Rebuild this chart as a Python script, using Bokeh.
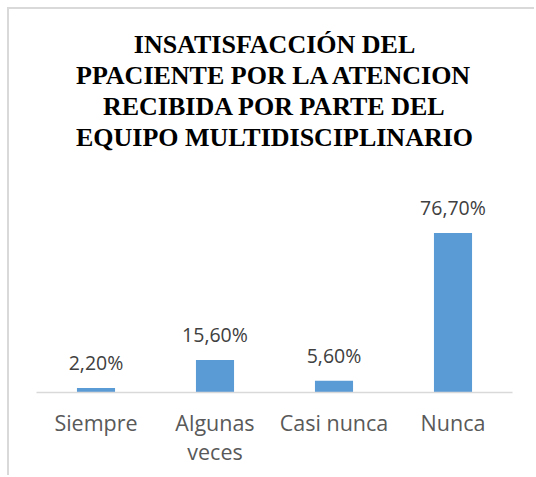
from bokeh.plotting import figure
from bokeh.models import ColumnDataSource, LabelSet, Title, LinearAxis, FixedTicker, Range1d
from bokeh.core.properties import value
from bokeh.embed import file_html
from bokeh.resources import INLINE

categories = ["Siempre", "Algunas veces", "Casi nunca", "Nunca"]
values = [2.2, 15.6, 5.6, 76.7]
value_labels = ["2,20%", "15,60%", "5,60%", "76,70%"]
title_lines = ["INSATISFACCIÓN DEL", "PPACIENTE POR LA ATENCION",
               "RECIBIDA POR PARTE DEL", "EQUIPO MULTIDISCIPLINARIO"]
tick_line1 = ["Siempre", "Algunas", "Casi nunca", "Nunca"]
tick_line2 = ["", "veces", "", ""]

SERIF = "'Liberation Serif'"
SANS = "'Open Sans'"

pos = list(range(len(categories)))
src = ColumnDataSource(dict(x=pos, cat=categories, val=values, lab=value_labels))

p = figure(x_range=Range1d(-0.5, len(categories) - 0.5), y_range=(0, 100),
           width=527, height=468, output_backend="svg", toolbar_location=None,
           min_border_left=27, min_border_right=24, min_border_bottom=85,
           min_border_top=175, x_axis_location=None)

p.title = None
# spacer between the title block and the plot area
p.add_layout(Title(text=" ", text_font_size="1px", standoff=30), "above")
for line in reversed(title_lines):
    t = Title(text=line, align="center", text_font=SERIF,
              text_font_size="26px", text_font_style="bold", text_color="#000000",
              standoff=0)
    p.add_layout(t, "above")

p.vbar(x="x", top="val", width=0.32, source=src, color="#5b9bd5", line_color=None)

labels = LabelSet(x="x", y="val", text="lab", source=src, text_align="center",
                  text_baseline="alphabetic", y_offset=17.7,
                  text_font=value(SANS), text_font_size="19.5px",
                  text_color="#404040")
p.add_layout(labels)

p.yaxis.visible = False
p.grid.visible = False
p.outline_line_color = None

def make_axis(texts, line_color, standoff):
    return LinearAxis(ticker=FixedTicker(ticks=pos),
                      major_label_overrides={i: (s if s else " ") for i, s in zip(pos, texts)},
                      axis_line_color=line_color, axis_line_width=1.5,
                      major_tick_line_color=None, minor_tick_line_color=None,
                      major_label_text_font=SANS, major_label_text_font_size="21.5px",
                      major_label_text_color="#595959",
                      major_label_standoff=standoff)

p.add_layout(make_axis(tick_line1, "#d9d9d9", 9), "below")
p.add_layout(make_axis(tick_line2, None, -9), "below")

p.styles = {"margin-left": "7px", "margin-top": "7px",
            "border-left": "2px solid #d9d9d9", "border-top": "2px solid #d9d9d9"}

open("out.html", "w").write(file_html(p, INLINE))
